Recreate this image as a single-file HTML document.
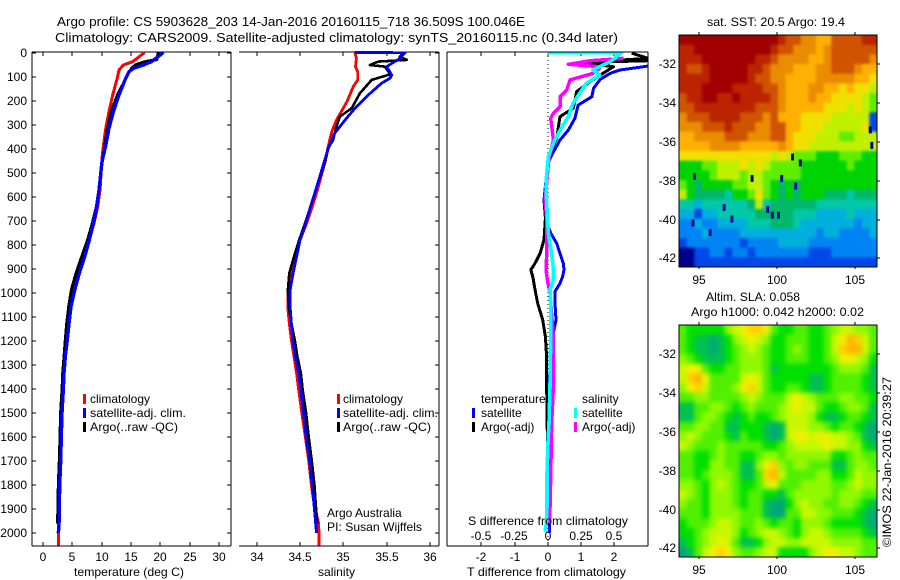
<!DOCTYPE html>
<html lang="en">
<head>
<meta charset="utf-8">
<title>Argo profile 5903628_203</title>
<style>
html,body{margin:0;padding:0;background:#fff;width:900px;height:580px;overflow:hidden}
svg{display:block}
text{font-family:"Liberation Sans",sans-serif;font-size:12px;fill:#000}
</style>
</head>
<body>
<svg id="chart" xmlns="http://www.w3.org/2000/svg" width="900" height="580" viewBox="0 0 900 580">
<defs>
<clipPath id="clip-diff"><rect x="447.5" y="52.5" width="200.5" height="493.5"/></clipPath>
<clipPath id="clip-sst"><rect x="679" y="35" width="198" height="232"/></clipPath>
<clipPath id="clip-sla"><rect x="679" y="325" width="198" height="232"/></clipPath>
<filter id="blur-sst" filterUnits="userSpaceOnUse" x="640" y="0" width="260" height="300" color-interpolation-filters="sRGB"><feGaussianBlur stdDeviation="1.4"/></filter>
<filter id="blur-sla" filterUnits="userSpaceOnUse" x="640" y="290" width="260" height="290" color-interpolation-filters="sRGB"><feGaussianBlur stdDeviation="2.3"/></filter>
</defs>
<text x="57" y="26" style="font-size:13px" textLength="468" lengthAdjust="spacingAndGlyphs">Argo profile: CS 5903628_203 14-Jan-2016 20160115_718 36.509S 100.046E</text>
<text x="55" y="42" style="font-size:13px" textLength="563" lengthAdjust="spacingAndGlyphs">Climatology: CARS2009. Satellite-adjusted climatology: synTS_20160115.nc (0.34d later)</text>
<g id="heatmaps"></g>
<g id="profiles"></g>

<text x="74" y="576" textLength="110" lengthAdjust="spacingAndGlyphs">temperature (deg C)</text>
<text x="318" y="576" textLength="37" lengthAdjust="spacingAndGlyphs">salinity</text>
<text x="467" y="576" textLength="159" lengthAdjust="spacingAndGlyphs">T difference from climatology</text>
<text x="468" y="525" textLength="160" lengthAdjust="spacingAndGlyphs">S difference from climatology</text>

<g>
<rect x="83" y="394" width="3" height="10" fill="#f00"/>
<rect x="83" y="408" width="3" height="10" fill="#00f"/>
<rect x="83" y="422" width="3" height="10" fill="#000"/>
<text x="90" y="403">climatology</text>
<text x="90" y="417" textLength="96" lengthAdjust="spacingAndGlyphs">satellite-adj. clim.</text>
<text x="90" y="431" textLength="88" lengthAdjust="spacingAndGlyphs">Argo(..raw -QC)</text>
</g>
<g>
<rect x="337" y="394" width="3" height="10" fill="#f00"/>
<rect x="337" y="408" width="3" height="10" fill="#00f"/>
<rect x="337" y="422" width="3" height="10" fill="#000"/>
<text x="343" y="403">climatology</text>
<text x="343" y="417" textLength="95" lengthAdjust="spacingAndGlyphs">satellite-adj. clim.</text>
<text x="343" y="431" textLength="88" lengthAdjust="spacingAndGlyphs">Argo(..raw -QC)</text>
</g>
<text x="327" y="517">Argo Australia</text>
<text x="327" y="531" textLength="95" lengthAdjust="spacingAndGlyphs">PI: Susan Wijffels</text>
<g>
<text x="481" y="403">temperature</text>
<text x="582" y="403">salinity</text>
<rect x="472" y="408" width="3" height="10" fill="#00f"/>
<rect x="472" y="422" width="3" height="10" fill="#000"/>
<rect x="574" y="408" width="3" height="10" fill="#0ff"/>
<rect x="574" y="422" width="3" height="10" fill="#f0f"/>
<text x="481" y="417">satellite</text>
<text x="481" y="431">Argo(-adj)</text>
<text x="582" y="417">satellite</text>
<text x="582" y="431">Argo(-adj)</text>
</g>
<text x="707" y="26" textLength="138" lengthAdjust="spacingAndGlyphs">sat. SST: 20.5 Argo: 19.4</text>
<text x="706" y="301" textLength="94" lengthAdjust="spacingAndGlyphs">Altim. SLA: 0.058</text>
<text x="691" y="316" textLength="173" lengthAdjust="spacingAndGlyphs">Argo h1000: 0.042 h2000: 0.02</text>
<text transform="translate(891,547) rotate(-90)" textLength="170" lengthAdjust="spacingAndGlyphs">©IMOS 22-Jan-2016 20:39:27</text>
</svg>
<script>
const depthTicks = [0,100,200,300,400,500,600,700,800,900,1000,1100,1200,1300,1400,1500,1600,1700,1800,1900,2000];
const tempTicks = [0,5,10,15,20,25,30];
const salTicks = [34,34.5,35,35.5,36];
const salTickLabels = ['34','34.5','35','35.5','36'];
const tDiffTicks = [-2,-1,0,1,2];
const sDiffTicks = [-0.5,-0.25,0,0.25,0.5];
const sDiffTickLabels = ['-0.5','-0.25','0','0.25','0.5'];
const lonTicks = [95,100,105];
const latTicks = [-32,-34,-36,-38,-40,-42];

const tempClimDepth = [0,38,52,73,106,177,246,315,385,427,573,642,711,780,850,919,989,1058,1128,1197,1266,1336,1405,1500,1600,1700,1800,1900,2000,2052];
const tempClimValues = [17.3,15.3,13.7,12.95,12.66,11.87,11.25,10.7,10.3,10.1,9.71,9.32,8.69,7.89,6.98,5.96,5.16,4.6,4.43,4.14,3.8,3.58,3.46,3.24,3.12,3.01,2.84,2.78,2.6,2.6];
const tempArgoDepth = [0,30,38,52,66,80,106,177,246,315,385,454,573,642,711,780,850,919,989,1058,1128,1197,1266,1336,1405,1500,1600,1700,1800,1900,1960];
const tempArgoValues = [19.65,19.4,17.4,15.7,15.1,14.7,14.15,12.7,11.6,11,10.55,10.1,9.5,9.1,8.4,7.6,6.6,5.62,4.82,4.38,4.04,3.8,3.58,3.36,3.24,3,2.9,2.78,2.6,2.55,2.44];
const tempSatDepth = [0,24,38,52,66,80,106,177,246,315,385,454,573,642,711,780,850,919,989,1058,1128,1197,1266,1336,1405,1500,1600,1700,1800,1900,1970,2000];
const tempSatValues = [20.5,19.25,18.5,17.1,15.4,14.65,14.1,12.95,12,11.25,10.7,10.05,9.54,9.15,8.57,7.89,7.1,6.18,5.4,4.77,4.43,4.14,3.8,3.58,3.46,3.24,3.12,3.01,2.84,2.78,2.73,2.6];

const salClimDepth = [0,24,59,80,114,142,205,281,330,398,454,573,642,711,780,850,919,989,1058,1128,1197,1266,1336,1405,1500,1600,1700,1800,1900,1950,2000,2052];
const salClimValues = [35.134,35.15,35.14,35.165,35.165,35.114,35.04,34.92,34.865,34.82,34.79,34.7,34.64,34.577,34.5,34.44,34.395,34.36,34.357,34.376,34.4,34.43,34.46,34.485,34.52,34.56,34.6,34.63,34.67,34.71,34.72,34.72];
const salArgoDepth = [0,17,31,38,52,59,80,91,114,170,232,267,309,364,398,454,573,642,711,780,850,919,989,1058,1128,1197,1266,1336,1405,1500,1600,1700,1800,1900,1960];
const salArgoValues = [35.71,35.65,35.73,35.4,35.307,35.48,35.52,35.537,35.326,35.19,35.096,34.96,34.92,34.88,34.826,34.79,34.68,34.62,34.557,34.49,34.43,34.376,34.36,34.37,34.4,34.44,34.47,34.51,34.53,34.57,34.6,34.635,34.665,34.685,34.7];
const salSatDepth = [0,1,8,31,45,59,94,107,128,177,232,281,336,398,454,573,642,711,780,850,919,989,1058,1128,1197,1266,1336,1405,1500,1600,1700,1800,1900,2000];
const salSatValues = [35.134,35.71,35.69,35.63,35.557,35.5,35.557,35.537,35.44,35.287,35.134,35.02,34.9,34.826,34.78,34.68,34.62,34.565,34.5,34.46,34.42,34.385,34.385,34.4,34.415,34.445,34.485,34.51,34.54,34.57,34.61,34.64,34.665,34.69];

const dtSatDepth = [0,56,73,87,112,149,184,219,274,323,364,427,461,531,614,690,752,794,836,877,905,933,961,995,1044,1113,1155,1183,1447,1959,2000];
const dtSatValues = [3.2,3.03,2.18,1.88,1.58,1.38,1.33,0.92,0.82,0.62,0.37,0.12,0,-0.05,-0.11,-0.07,0.09,0.27,0.37,0.47,0.49,0.45,0.37,0.22,0.22,0.25,0.19,0.12,0.02,0.05,0.05];
const dtArgoDepth = [3,24,31,34,42,59,121,163,232,267,357,406,447,531,690,780,836,877,905,933,989,1044,1113,1183,1252,1391,1405,1613,1752];
const dtArgoValues = [2.53,3.03,2.28,3.03,0.95,1.98,1.28,0.87,0.77,0.37,0.27,0.12,0.02,-0.05,-0.07,-0.11,-0.23,-0.38,-0.51,-0.45,-0.38,-0.3,-0.15,-0.07,-0.04,-0.03,-0.03,-0.01,0.03];
const dsArgoDepth = [24,34,49,59,66,87,114,156,184,225,253,274,364,420,461,545,614,690,836,905,947,1002,1183,1391,1544,1752,1890,1959];
const dsArgoValues = [0.57,0.32,0.155,0.39,0.39,0.34,0.168,0.143,0.093,0.093,0.043,0.0225,0.043,0.0175,0.005,-0.0075,-0.02,-0.0075,-0.0075,-0.0125,-0.0025,0.0175,0.043,0.043,0.03,0.023,0.018,0.013];
const dsSatDepth = [0,1,38,73,94,128,212,267,323,378,433,503,559,690,766,836,905,947,989,1044,1183,1391,1544,1613,1752,1890,1959,1995];
const dsSatValues = [0,0.556,0.47,0.34,0.39,0.29,0.19,0.155,0.093,0.043,0.005,-0.0075,-0.0125,-0.0025,0.0075,0.03,0.043,0.043,0.0175,0.0225,0.0225,0.0175,0.01,0.003,-0.005,-0.005,-0.01,-0.02];

const sstPalette = ['#00008f','#0048e8','#0084f4','#00b0dc','#00c8a8','#00b868','#00d400','#60ee00','#bff000','#f0e000','#ffb000','#ea8c00','#d05400','#bc2400','#a00000'];
const sstGrid = [
[14,14,14,14,14,14,14,14,14,14,14,14,14,13,12,12,11,11,10,10,12,12,12,12,13,13],
[13,13,14,14,14,14,14,14,14,14,14,14,13,12,12,11,11,11,10,11,12,12,12,12,12,12],
[13,13,13,14,14,14,14,14,14,14,13,13,12,11,11,11,11,10,10,11,12,12,12,12,12,11],
[13,12,12,13,14,14,14,14,14,13,13,12,11,11,11,10,10,10,11,11,12,12,12,11,10,10],
[13,13,13,13,14,14,14,14,14,13,12,12,11,11,10,10,10,10,11,11,11,11,11,10,10,9],
[13,13,13,14,14,14,14,13,13,13,13,12,12,11,10,10,10,11,11,10,10,9,10,9,9,8],
[12,13,13,14,14,13,13,14,13,13,13,13,12,11,10,10,10,11,10,10,9,9,9,9,8,7],
[12,12,13,13,13,13,13,13,13,13,12,12,12,11,10,10,10,10,10,9,9,9,8,9,8,7],
[11,12,12,12,13,13,13,13,12,12,12,11,12,10,10,10,9,9,9,9,8,8,8,8,8,1],
[11,11,11,12,12,12,13,12,12,12,11,11,12,12,10,10,9,9,9,8,8,8,8,8,9,1],
[10,10,11,11,11,11,12,12,12,11,11,11,12,12,10,9,9,9,8,8,8,7,7,8,8,8],
[10,10,10,10,11,11,11,11,10,10,10,10,10,11,10,9,9,8,8,8,8,8,8,8,8,8],
[9,9,9,9,9,9,9,9,9,9,9,9,8,9,8,7,7,7,6,6,6,7,7,7,6,6],
[6,6,6,7,7,8,8,8,9,8,9,8,7,7,7,7,6,6,6,6,6,6,7,6,6,6],
[6,6,6,6,7,8,8,8,7,8,8,7,7,7,7,7,6,6,6,6,6,6,6,6,6,6],
[7,6,5,6,6,6,6,7,7,8,8,7,6,5,6,5,6,6,6,6,6,6,6,6,6,6],
[8,6,5,5,5,5,4,6,6,7,9,7,6,5,6,5,6,6,6,5,5,5,4,5,5,5],
[4,4,3,4,4,4,4,4,4,5,8,4,5,5,5,5,5,5,4,4,4,4,4,4,4,4],
[3,3,1,3,3,4,4,4,4,4,5,5,5,5,5,4,4,4,3,3,3,3,4,3,3,3],
[2,2,3,2,2,3,3,3,3,4,4,4,5,5,5,4,3,3,3,3,3,3,3,2,3,3],
[2,2,2,3,2,2,2,2,3,3,3,3,3,3,3,3,3,3,2,3,3,2,2,2,2,3],
[1,2,2,2,2,2,2,2,1,2,2,2,2,3,3,3,3,2,2,2,2,2,2,2,2,2],
[0,0,1,1,2,2,1,2,2,1,2,2,2,2,2,2,2,1,1,1,2,2,2,2,2,2],
[0,0,1,1,1,1,1,1,1,1,1,1,1,1,1,1,1,1,1,1,1,1,1,1,1,1]
];
const slaPalette = ['#00a878','#00c050','#00e000','#50f000','#90f800','#c8f800','#f0f000','#ffd000','#ffb400'];
const slaGrid = [
[3,2,2,2,2,2,4,5,6,7,7,6,3,2,2,3,3,2,2,3,4,5,5,4,4,3],
[3,2,1,1,0,1,2,4,5,6,5,4,2,2,3,3,3,2,2,3,5,6,8,7,5,3],
[3,2,1,1,0,1,2,3,4,5,4,3,2,2,3,4,3,2,2,3,5,7,8,8,5,3],
[4,3,2,1,1,1,2,3,4,4,4,3,2,2,3,3,3,2,2,3,4,6,6,5,4,2],
[5,6,6,3,2,2,3,3,4,4,4,3,1,2,2,2,2,2,2,2,3,4,4,4,3,1],
[5,7,8,6,3,3,3,3,5,6,5,3,2,2,2,2,2,1,1,2,3,3,3,3,2,1],
[4,6,7,5,3,3,3,4,6,7,5,3,2,2,3,3,2,1,1,2,3,3,3,3,2,1],
[3,3,4,4,3,3,3,3,4,5,4,3,3,3,5,6,5,4,3,3,3,4,4,3,3,2],
[1,1,3,3,4,4,3,2,3,4,3,3,3,4,5,6,5,5,3,2,2,3,4,4,3,1],
[1,1,3,4,4,3,2,1,2,3,2,2,3,4,5,5,5,4,2,1,1,2,3,3,2,1],
[3,3,4,4,3,3,1,1,2,2,2,1,0,1,5,5,5,4,4,3,2,3,3,2,1,0],
[4,5,4,3,3,3,2,1,3,2,2,1,0,1,5,6,6,5,6,6,5,5,4,3,1,0],
[5,4,3,3,3,4,3,3,3,3,3,2,2,3,4,5,5,5,5,6,5,5,4,4,2,1],
[3,3,2,2,3,4,3,3,2,2,3,4,4,3,4,4,4,4,4,4,2,2,3,4,3,3],
[3,3,2,2,4,4,3,3,1,1,4,6,7,4,3,4,4,3,3,3,1,1,3,4,4,3],
[3,3,2,3,4,4,4,3,1,1,3,7,8,5,3,3,3,3,4,4,2,2,3,5,4,4],
[4,4,3,2,4,5,4,3,2,2,3,5,6,3,3,3,4,4,4,4,3,3,4,5,4,4],
[5,4,3,2,4,4,4,3,2,3,3,2,2,1,3,4,4,4,4,4,3,4,4,4,3,3],
[4,3,3,2,4,4,4,3,2,3,3,1,0,0,2,4,5,4,4,3,3,4,4,3,2,1],
[3,3,3,2,4,4,4,4,3,3,3,1,0,0,3,3,5,5,4,4,3,3,3,2,1,0],
[2,3,3,3,4,5,5,4,3,3,4,3,2,3,3,2,4,4,4,3,2,2,2,2,1,0],
[2,2,3,4,5,5,5,4,2,3,4,5,5,4,3,2,4,5,5,4,3,3,3,3,2,1],
[1,2,3,4,5,6,5,3,1,1,2,4,5,5,4,4,5,5,5,5,4,4,4,4,3,3],
[0,1,3,5,6,7,6,4,3,3,4,5,5,2,2,2,2,4,5,6,6,5,5,4,3,3]
];
const sstSpeckLon = [94.6,95.6,96.5,97.0,98.3,99.3,99.6,100.2,100.9,101.1,101.4,105.9,106.0,100.0,94.5];
const sstSpeckLat = [-37.6,-40.5,-39.2,-39.8,-37.7,-39.3,-39.6,-37.7,-36.6,-38.1,-36.9,-35.2,-36.0,-39.6,-40.0];

const NS = 'http://www.w3.org/2000/svg';
const root = document.getElementById('profiles');
const mapRoot = document.getElementById('heatmaps');
const depthY = d => 52.5 + d * 0.24025;
const tempX = v => 43 + v * 5.87;
const salX = v => 256.7 + (v - 34) * 86.7;
const dtX = v => 547.7 + v * 33.2;
const dsX = v => 547.7 + v * 133;
const lonX = v => 699.3 + (v - 95) * 15.55;
const latOffset = v => (-32 - v) * 19.4;

function svgEl(tag, attrs, parent) {
  const n = document.createElementNS(NS, tag);
  for (const k in attrs) n.setAttribute(k, attrs[k]);
  parent.appendChild(n);
  return n;
}
function pointsFor(depths, values, xf) {
  return depths.map((d, i) => xf(values[i]).toFixed(1) + ',' + depthY(d).toFixed(1)).join(' ');
}
function drawSeries(name, depths, values, xf, color, width, clip) {
  const attrs = {points: pointsFor(depths, values, xf), fill: 'none', stroke: color, 'stroke-width': width, 'shape-rendering': 'crispEdges', 'stroke-linejoin': 'round'};
  if (clip) attrs['clip-path'] = 'url(#clip-diff)';
  const line = svgEl('polyline', attrs, root);
  
  
}
function drawLine(name, x1, y1, x2, y2, parent) {
  const l = svgEl('line', {x1: x1, y1: y1, x2: x2, y2: y2, stroke: '#000', 'stroke-width': 1, 'shape-rendering': 'crispEdges'}, parent);
  
  
  return l;
}
function drawLabel(name, x, y, anchor, str, parent) {
  const t = svgEl('text', {x: x, y: y, 'text-anchor': anchor}, parent);
  t.textContent = str;
  
  
}

const TOP = 52, BOT = 546;

drawLine('temperature-panel-top', 32, TOP, 231, TOP, root);
drawLine('temperature-panel-bottom', 32, BOT, 231, BOT, root);
drawLine('temperature-panel-left', 32, TOP, 32, BOT, root);
drawLine('temperature-panel-right', 231, TOP, 231, BOT, root);
drawLine('salinity-panel-top', 239, TOP, 439, TOP, root);
drawLine('salinity-panel-bottom', 239, BOT, 439, BOT, root);
drawLine('salinity-panel-right', 439, TOP, 439, BOT, root);
drawLine('difference-panel-top', 447, TOP, 648, TOP, root);
drawLine('difference-panel-bottom', 447, BOT, 648, BOT, root);
drawLine('difference-panel-left', 447, TOP, 447, BOT, root);
drawLine('difference-panel-right', 648, TOP, 648, BOT, root);

depthTicks.forEach(d => {
  const y = Math.round(depthY(d));
  drawLabel('depth-tick-label', 27, y + 4, 'end', String(d), root);
  drawLine('depth-tick-left', 32, y, 36, y, root);
  drawLine('depth-tick-right', 227, y, 231, y, root);
  drawLine('salinity-depth-tick', 435, y, 439, y, root);
});
tempTicks.forEach(v => {
  const x = Math.round(tempX(v));
  drawLine('temperature-tick-top', x, TOP, x, TOP + 4, root);
  drawLine('temperature-tick-bottom', x, BOT - 4, x, BOT, root);
  drawLabel('temperature-tick-label', x, 561, 'middle', String(v), root);
});
salTicks.forEach((v, i) => {
  const x = Math.round(salX(v));
  drawLine('salinity-tick-top', x, TOP, x, TOP + 4, root);
  drawLine('salinity-tick-bottom', x, BOT - 4, x, BOT, root);
  drawLabel('salinity-tick-label', x, 561, 'middle', salTickLabels[i], root);
});
tDiffTicks.forEach(v => {
  const x = Math.round(dtX(v));
  drawLine('t-difference-tick-top', x, TOP, x, TOP + 4, root);
  drawLine('t-difference-tick-bottom', x, BOT - 4, x, BOT, root);
  drawLabel('t-difference-tick-label', x, 561, 'middle', String(v), root);
});
sDiffTicks.forEach((v, i) => {
  drawLabel('s-difference-tick-label', Math.round(dsX(v)), 540, 'middle', sDiffTickLabels[i], root);
});

const zero = drawLine('zero-difference-line', Math.round(dtX(0)), TOP, Math.round(dtX(0)), BOT, root);
zero.setAttribute('stroke-dasharray', '1 3');

drawSeries('temperature-climatology-line', tempClimDepth, tempClimValues, tempX, '#f00', 3);
drawSeries('temperature-argo-line', tempArgoDepth, tempArgoValues, tempX, '#000', 3);
drawSeries('temperature-satellite-line', tempSatDepth, tempSatValues, tempX, '#00f', 3.4);
drawSeries('salinity-climatology-line', salClimDepth, salClimValues, salX, '#f00', 2.8);
drawSeries('salinity-argo-line', salArgoDepth, salArgoValues, salX, '#000', 2.6);
drawSeries('salinity-satellite-line', salSatDepth, salSatValues, salX, '#00f', 2.8);
drawSeries('t-difference-satellite-line', dtSatDepth, dtSatValues, dtX, '#00f', 3, true);
drawSeries('t-difference-argo-line', dtArgoDepth, dtArgoValues, dtX, '#000', 3, true);
drawSeries('s-difference-argo-line', dsArgoDepth, dsArgoValues, dsX, '#f0f', 3.4, true);
drawSeries('s-difference-satellite-line', dsSatDepth, dsSatValues, dsX, '#0ff', 3.6, true);

function drawMap(prefix, grid, palette, top) {
  const left = 679, right = 877, height = 232;
  const rows = grid.length, cols = grid[0].length;
  const cw = (right - left) / cols, ch = height / rows;
  const clipGroup = svgEl('g', {'clip-path': 'url(#clip-' + prefix + ')'}, mapRoot);
  
  
  const blurGroup = svgEl('g', {filter: 'url(#blur-' + prefix + ')'}, clipGroup);
  
  
  const pad = 14;
  grid.forEach((row, r) => {
    row.forEach((level, c) => {
      const x0 = left + c * cw - (c === 0 ? pad : 0);
      const x1 = left + (c + 1) * cw + (c === cols - 1 ? pad : 0.5);
      const y0 = top + r * ch - (r === 0 ? pad : 0);
      const y1 = top + (r + 1) * ch + (r === rows - 1 ? pad : 0.5);
      const cell = svgEl('rect', {x: x0.toFixed(2), y: y0.toFixed(2), width: (x1 - x0).toFixed(2), height: (y1 - y0).toFixed(2), fill: palette[level]}, blurGroup);
      
      
    });
  });
  const frame = svgEl('rect', {x: left, y: top, width: right - left, height: height, fill: 'none', stroke: '#000', 'stroke-width': 1, 'shape-rendering': 'crispEdges'}, mapRoot);
  
  
  const zeroLat = top + 29.3;
  latTicks.forEach(v => {
    const y = Math.round(zeroLat + latOffset(v));
    drawLabel(prefix + '-latitude-label', 676, y + 4, 'end', String(v), mapRoot);
    drawLine(prefix + '-latitude-tick', right, y, right + 3, y, mapRoot);
  });
  lonTicks.forEach(v => {
    const x = Math.round(lonX(v));
    drawLabel(prefix + '-longitude-label', x, top + 249, 'middle', String(v), mapRoot);
    drawLine(prefix + '-longitude-tick-top', x, top - 3, x, top, mapRoot);
    drawLine(prefix + '-longitude-tick-bottom', x, top + height, x, top + height + 2, mapRoot);
  });
}
drawMap('sst', sstGrid, sstPalette, 35);
drawMap('sla', slaGrid, slaPalette, 325);

sstSpeckLon.forEach((lon, i) => {
  const s = svgEl('rect', {x: lonX(lon).toFixed(1), y: (64.3 + latOffset(sstSpeckLat[i])).toFixed(1), width: 3, height: 7, fill: '#000a90'}, mapRoot);
  
  
});
</script>
</body>
</html>
